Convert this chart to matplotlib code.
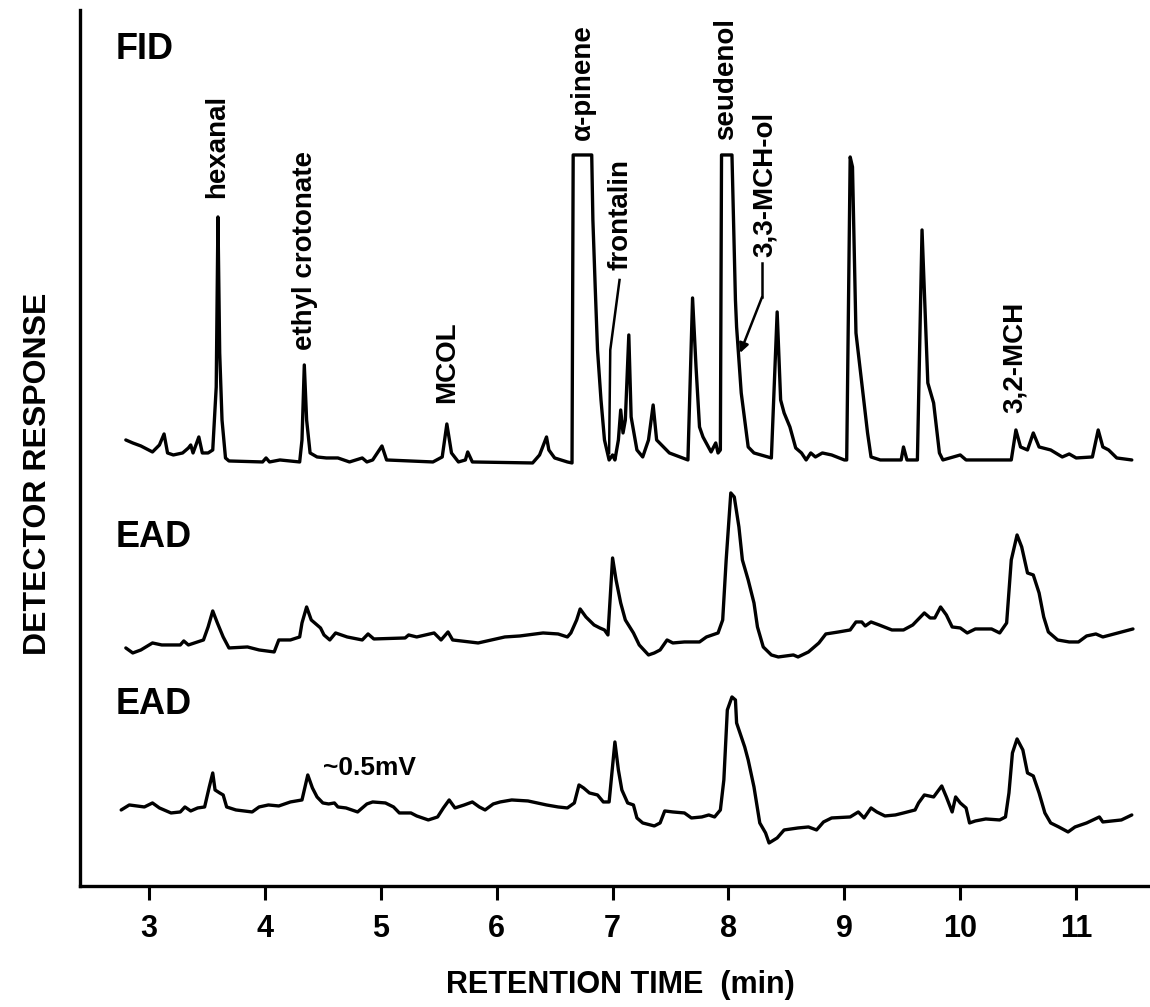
import matplotlib
matplotlib.use('Agg')
import matplotlib.pyplot as plt
import numpy as np

plt.rcParams['font.family'] = ['Liberation Sans', 'DejaVu Sans']
plt.rcParams['font.weight'] = 'bold'

# retention time (min) / detector response (arbitrary units above each trace baseline)
fid_time = [2.80, 2.86, 2.93, 3.03, 3.09, 3.13, 3.16, 3.21, 3.29, 3.34, 3.36, 3.38, 3.43, 3.46,
            3.51, 3.55, 3.58, 3.595, 3.61, 3.63, 3.66, 3.69, 3.98, 4.01, 4.04, 4.13, 4.30, 4.32,
            4.34, 4.36, 4.39, 4.45, 4.53, 4.63, 4.73, 4.84, 4.88, 4.93, 5.01, 5.05, 5.45, 5.53,
            5.57, 5.61, 5.67, 5.73, 5.75, 5.79, 6.31, 6.37, 6.43, 6.45, 6.50, 6.61, 6.65, 6.66,
            6.82, 6.83, 6.85, 6.87, 6.90, 6.93, 6.96, 6.97, 7.00, 7.02, 7.05, 7.07, 7.09, 7.11,
            7.14, 7.16, 7.21, 7.26, 7.31, 7.35, 7.38, 7.49, 7.65, 7.69, 7.72, 7.75, 7.78, 7.85,
            7.89, 7.91, 7.93, 7.94, 8.03, 8.06, 8.07, 8.11, 8.14, 8.17, 8.22, 8.37, 8.42, 8.45,
            8.48, 8.53, 8.58, 8.63, 8.67, 8.71, 8.75, 8.81, 8.89, 9.00, 9.02, 9.05, 9.07, 9.10,
            9.15, 9.20, 9.23, 9.31, 9.49, 9.51, 9.54, 9.63, 9.67, 9.72, 9.77, 9.82, 9.85, 10.00,
            10.05, 10.44, 10.48, 10.52, 10.58, 10.63, 10.68, 10.78, 10.88, 10.94, 11.00, 11.14,
            11.19, 11.23, 11.28, 11.35, 11.48]
fid_resp = [22, 19, 16, 10, 17, 28, 9, 7, 9, 14, 17, 9, 25, 9,
            9, 12, 75, 245, 109, 42, 4, 1, 0, 4, 0, 2, 0, 22,
            97, 42, 9, 5, 4, 4, 0, 4, 0, 2, 16, 2, 0, 5,
            38, 9, 0, 2, 10, 0, -1, 7, 25, 12, 4, 0, -1, 307,
            307, 242, 175, 112, 62, 22, 7, 2, 7, 2, 22, 52, 29, 42,
            127, 45, 12, 5, 22, 57, 22, 9, 2, 164, 95, 35, 25, 10,
            19, 9, 12, 307, 307, 162, 135, 69, 42, 15, 9, 4, 150, 62,
            49, 35, 14, 9, 2, 9, 5, 9, 7, 2, 2, 305, 295, 129,
            79, 29, 5, 2, 2, 15, 2, 2, 232, 79, 59, 9, 2, 7,
            2, 2, 32, 15, 12, 29, 15, 12, 5, 8, 4, 5,
            32, 15, 12, 4, 2]

ead1_time = [2.80, 2.86, 2.93, 3.03, 3.11, 3.27, 3.30, 3.34, 3.47, 3.51, 3.55, 3.59, 3.64, 3.69,
             3.85, 3.95, 4.08, 4.12, 4.22, 4.30, 4.32, 4.36, 4.40, 4.48, 4.51, 4.56, 4.61, 4.71,
             4.84, 4.89, 4.94, 5.21, 5.24, 5.31, 5.46, 5.52, 5.58, 5.62, 5.84, 6.07, 6.20, 6.40,
             6.53, 6.61, 6.64, 6.69, 6.72, 6.77, 6.84, 6.89, 6.93, 6.96, 7.00, 7.03, 7.07, 7.11,
             7.18, 7.23, 7.31, 7.36, 7.41, 7.47, 7.52, 7.62, 7.75, 7.81, 7.91, 7.95, 7.98, 8.02,
             8.05, 8.09, 8.12, 8.17, 8.22, 8.25, 8.30, 8.37, 8.43, 8.56, 8.60, 8.69, 8.78, 8.84,
             8.95, 9.05, 9.10, 9.15, 9.18, 9.23, 9.30, 9.41, 9.51, 9.59, 9.69, 9.74, 9.78, 9.83,
             9.88, 9.93, 10.00, 10.06, 10.13, 10.27, 10.34, 10.40, 10.44, 10.49, 10.53, 10.58,
             10.63, 10.68, 10.72, 10.76, 10.84, 10.94, 11.02, 11.09, 11.17, 11.23, 11.36, 11.49]
ead1_resp = [-8, -13, -10, -3, -5, -5, -1, -5, 0, 13, 29, 17, 3, -8,
             -7, -10, -12, 0, 0, 3, 17, 33, 20, 12, 5, 0, 7, 3,
             0, 6, 1, 2, 5, 3, 7, 0, 8, 0, -3, 3, 4, 7,
             6, 3, 7, 20, 31, 23, 15, 12, 10, 5, 82, 60, 37, 20,
             7, -5, -15, -13, -10, 0, -3, -2, -2, 3, 7, 20, 80, 147,
             143, 113, 80, 60, 37, 13, -7, -15, -17, -15, -17, -12, -3, 6,
             8, 10, 18, 18, 14, 18, 15, 10, 10, 15, 27, 22, 22, 33,
             25, 13, 12, 7, 11, 11, 7, 17, 80, 105, 93, 67,
             65, 47, 23, 8, 0, -2, -2, 4, 6, 3, 7, 11]

ead2_time = [2.76, 2.83, 2.96, 3.03, 3.09, 3.19, 3.27, 3.31, 3.36, 3.42, 3.48, 3.52, 3.55, 3.57,
             3.61, 3.64, 3.67, 3.75, 3.89, 3.95, 4.03, 4.12, 4.22, 4.32, 4.37, 4.41, 4.45, 4.50,
             4.55, 4.60, 4.63, 4.70, 4.80, 4.88, 4.93, 5.04, 5.11, 5.16, 5.26, 5.31, 5.41, 5.49,
             5.54, 5.59, 5.64, 5.72, 5.79, 5.85, 5.90, 5.97, 6.03, 6.13, 6.27, 6.35, 6.43, 6.53,
             6.61, 6.67, 6.71, 6.75, 6.80, 6.87, 6.92, 6.97, 7.02, 7.05, 7.08, 7.13, 7.18, 7.21,
             7.26, 7.36, 7.41, 7.45, 7.52, 7.62, 7.68, 7.77, 7.83, 7.88, 7.93, 7.96, 7.99, 8.03,
             8.06, 8.07, 8.14, 8.17, 8.22, 8.27, 8.32, 8.35, 8.42, 8.48, 8.60, 8.69, 8.76, 8.82,
             8.89, 9.05, 9.12, 9.17, 9.23, 9.28, 9.35, 9.44, 9.51, 9.61, 9.64, 9.69, 9.77, 9.84,
             9.88, 9.93, 9.96, 10.00, 10.05, 10.08, 10.13, 10.22, 10.34, 10.39, 10.42, 10.45,
             10.49, 10.54, 10.58, 10.63, 10.68, 10.73, 10.78, 10.85, 10.93, 10.99, 11.09, 11.20,
             11.23, 11.39, 11.48]
ead2_resp = [-3, 2, 0, 4, -1, -6, -5, 0, -4, -1, 0, 20, 34, 17,
             14, 12, 0, -3, -5, 0, 2, 1, 5, 7, 32, 19, 10, 4,
             3, 4, 0, -1, -5, 3, 5, 4, 0, -6, -6, -9, -13, -10,
             -1, 7, -1, 2, 5, 0, -3, 3, 5, 7, 6, 4, 2, 0,
             -1, 4, 22, 19, 14, 12, 5, 5, 65, 37, 17, 4, 2, -11,
             -16, -19, -16, -4, -5, -6, -11, -10, -8, -10, -3, 27, 97, 110,
             107, 84, 60, 47, 20, -16, -26, -36, -31, -23, -21, -20, -23, -15,
             -11, -10, -5, -11, -1, -5, -9, -8, -6, -3, 4, 12, 10, 21,
             10, -5, 10, 4, -1, -16, -14, -12, -13, -10, 14, 54,
             68, 57, 34, 31, 14, -6, -16, -20, -25, -20, -16, -10,
             -15, -13, -8]

trace_names = ['FID', 'EAD', 'EAD']

# compound labels: name, retention time, label foot height
peak_names = ['hexanal', 'ethyl crotonate', 'MCOL', 'α-pinene', 'frontalin',
              'seudenol', '3,3-MCH-ol', '3,2-MCH']
peak_times = [3.59, 4.35, 5.57, 6.74, 7.07, 7.98, 8.31, 10.47]
peak_label_y = [688, 536, 483, 746, 616, 746, 629, 473]

x_ticks = [3, 4, 5, 6, 7, 8, 9, 10, 11]

# vertical stacking of the three traces
offsets = [424, 246, 79]

fig = plt.figure(figsize=(11.5, 10.07), dpi=100)
ax = fig.add_axes([0.0696, 0.1202, 0.9304, 0.8699])

lw = 2.4
for t, r, off in zip([fid_time, ead1_time, ead2_time], [fid_resp, ead1_resp, ead2_resp], offsets):
    ax.plot(t, np.array(r) + off, color='black', lw=lw, solid_joinstyle='round',
            solid_capstyle='round')

for name, off in zip(trace_names, offsets):
    ax.text(2.71, off + (412 if name == 'FID' else 102), name, fontsize=26,
            fontweight='bold', ha='left', va='center')

ax.text(4.50, offsets[2] + 39, '~0.5mV', fontsize=19, fontweight='bold',
        ha='left', va='center')

for name, t, y in zip(peak_names, peak_times, peak_label_y):
    ax.text(t, y, name, rotation=90, fontsize=20, fontweight='bold',
            ha='center', va='bottom')

# pointer lines for frontalin and 3,3-MCH-ol
ax.plot([7.06, 6.98, 6.97], [606, 536, 433], color='black', lw=1.8)
ax.plot([8.29, 8.29], [623, 589], color='black', lw=1.8)
ax.annotate('', xy=(8.10, 533), xytext=(8.29, 589),
            arrowprops=dict(arrowstyle='-|>', color='black', lw=1.8,
                            mutation_scale=14, shrinkA=0, shrinkB=0))

ax.set_xlim(2.405, 11.637)
ax.set_ylim(0, 876)
ax.set_xticks(x_ticks)
ax.set_xticklabels([str(v) for v in x_ticks])
ax.set_yticks([])
ax.tick_params(axis='x', direction='out', length=10, width=2.2, pad=10, labelsize=22)
for lab in ax.get_xticklabels():
    lab.set_fontweight('bold')
for side in ['top', 'right']:
    ax.spines[side].set_visible(False)
for side in ['left', 'bottom']:
    ax.spines[side].set_linewidth(2.4)

ax.set_xlabel('RETENTION TIME  (min)', fontsize=22, fontweight='bold', va='center')
ax.xaxis.set_label_coords(0.505, -0.113)
ax.set_ylabel('DETECTOR RESPONSE', fontsize=23, fontweight='bold', va='center')
ax.yaxis.set_label_coords(-0.039, 0.47)

fig.savefig('out.png', dpi=100)
